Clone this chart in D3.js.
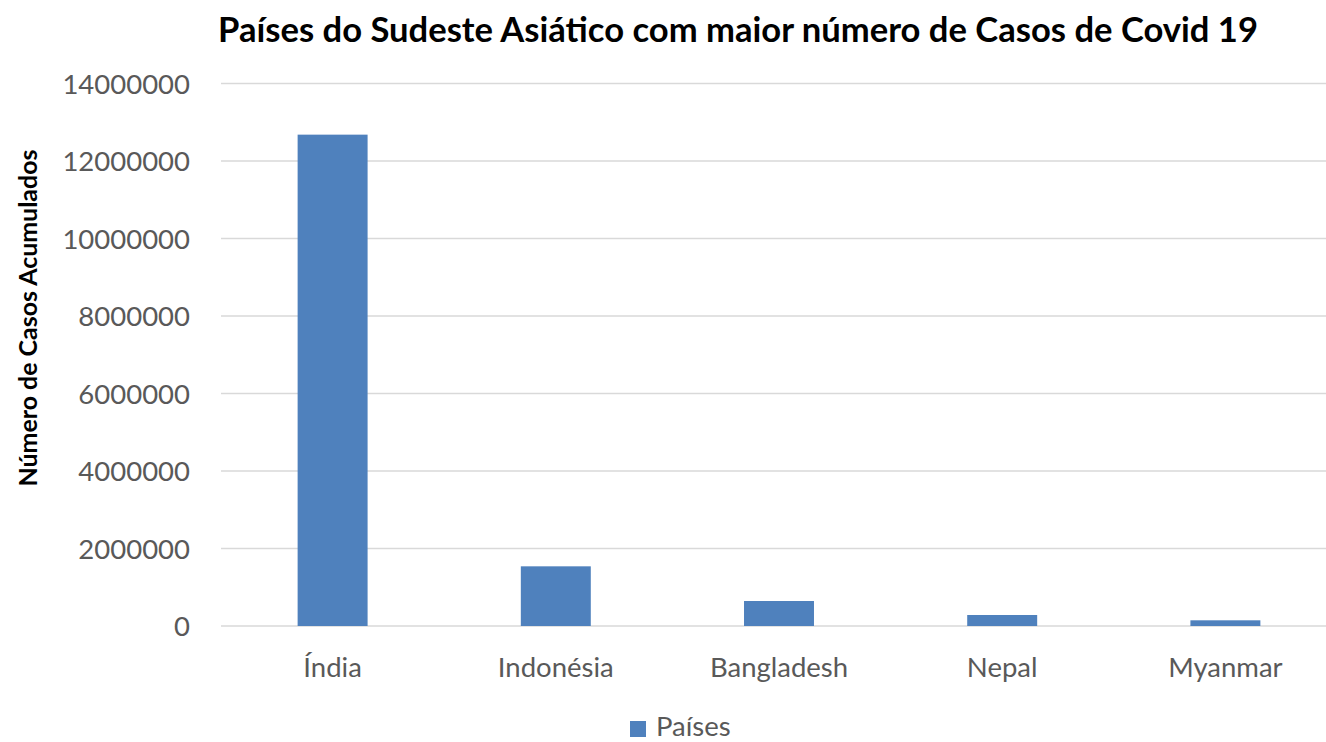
<!DOCTYPE html>
<html><head><meta charset="utf-8">
<script src="https://cdn.jsdelivr.net/npm/d3@7"></script>
<style>body{margin:0;background:#fff}svg{display:block}</style>
</head><body>
<script>
const categories = ["Índia","Indonésia","Bangladesh","Nepal","Myanmar"];
const values = [12680000, 1540000, 645000, 284000, 147000];
const yTicks = [0,2000000,4000000,6000000,8000000,10000000,12000000,14000000];
const seriesName = "Países";
const titleText = "Países do Sudeste Asiático com maior número de Casos de Covid 19";
const yLabel = "Número de Casos Acumulados";

const W = 1326, H = 742;
const font = "Lato, 'Open Sans', sans-serif";
const svg = d3.select("body").append("svg").attr("width", W).attr("height", H);

const x = d3.scaleBand().domain(categories).range([221, 1337]).paddingInner(0.6865).paddingOuter(0.3433);
const y = d3.scaleLinear().domain([0, 14000000]).range([626, 83.5]);

// gridlines
svg.append("g").selectAll("line").data(yTicks).join("line")
  .attr("x1", 221).attr("x2", 1337)
  .attr("y1", d => y(d)).attr("y2", d => y(d))
  .attr("stroke", "#d9d9d9").attr("stroke-width", 1.3);

// y tick labels
const yAxis = svg.append("g").attr("transform", "translate(190,0)")
  .call(d3.axisLeft(y).tickValues(yTicks).tickSize(0).tickPadding(0).tickFormat(d3.format("d")));
yAxis.select(".domain").remove();
yAxis.selectAll("text").attr("font-family", font).attr("font-size", 27.5).attr("fill", "#595959").attr("dy", "0.35em");

// bars
svg.append("g").selectAll("rect").data(values).join("rect")
  .attr("x", (d,i) => x(categories[i]))
  .attr("width", x.bandwidth())
  .attr("y", d => y(d))
  .attr("height", d => y(0) - y(d))
  .attr("fill", "#4f81bd");

// x axis labels
const xAxis = svg.append("g").attr("transform", "translate(0,626)")
  .call(d3.axisBottom(x).tickSize(0).tickPadding(41));
xAxis.select(".domain").remove();
xAxis.selectAll("text").attr("font-family", font).attr("font-size", 27.5).attr("fill", "#595959").attr("dy", "0.35em");

// title
const t = svg.append("text").attr("x", 738).attr("y", 42).attr("text-anchor", "middle")
  .attr("font-family", font).attr("font-weight", "bold").attr("font-size", 28).attr("fill", "#000")
  .text(titleText);
const tw = t.node().getComputedTextLength();
t.attr("font-size", 28 * 1040 / tw);

// y label
const yl = svg.append("text").attr("transform", "translate(37,318) rotate(-90)").attr("text-anchor", "middle")
  .attr("font-family", font).attr("font-weight", "bold").attr("font-size", 19).attr("fill", "#000")
  .text(yLabel);
const yw = yl.node().getComputedTextLength();
yl.attr("font-size", 19 * 337 / yw);

// legend
svg.append("rect").attr("x", 630).attr("y", 721).attr("width", 16).attr("height", 16).attr("fill", "#4f81bd");
svg.append("text").attr("x", 656).attr("y", 735.5).attr("font-family", font).attr("font-size", 27.5).attr("fill", "#595959").text(seriesName);
</script>
</body></html>
